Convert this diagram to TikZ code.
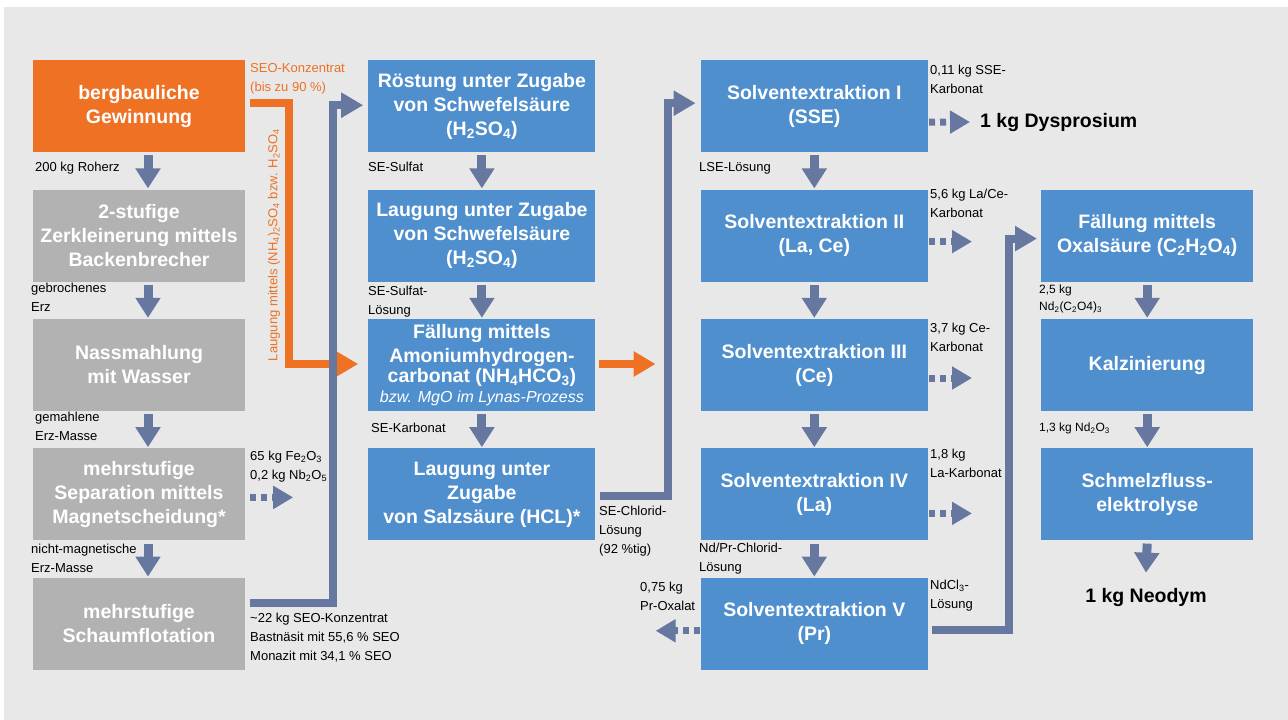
\documentclass[tikz,border=0pt]{standalone}
\usepackage{fontspec}
\setmainfont{Liberation Sans}
\usetikzlibrary{arrows.meta, positioning}

\definecolor{oreorange}{HTML}{EE7124}
\definecolor{oregray}{HTML}{B2B2B2}
\definecolor{procblue}{HTML}{4F8FCD}
\definecolor{flowblue}{HTML}{6678A0}
\definecolor{bggray}{HTML}{E8E8E8}

\newcommand{\subs}[1]{\textsubscript{#1}}

\begin{document}
\begin{tikzpicture}[
    x=1pt, y=-1pt,
    node distance=37pt and 123pt,
    block/.style={rectangle, fill=procblue, minimum width=212pt, minimum height=92pt, inner sep=0pt, align=center, text=white, font=\fontsize{19.5}{24}\selectfont\bfseries},
    wblock/.style={block, minimum width=227pt},
    ore/.style={block, fill=oreorange},
    grey/.style={block, fill=oregray},
    down/.style={draw=flowblue, line width=9pt, -{Triangle[width=24pt,length=20pt]}},
    side/.style={draw=flowblue, line width=7pt, dash pattern=on 6pt off 5pt, -{Triangle[width=22pt,length=20pt]}},
    link/.style={draw=flowblue, line width=8pt, -{Triangle[width=24pt,length=22pt]}},
    olink/.style={link, draw=oreorange},
    lbl/.style={anchor=north west, inner sep=0pt, align=left, font=\fontsize{13}{19}\selectfont},
    slbl/.style={lbl, font=\fontsize{12}{17}\selectfont},
    olbl/.style={lbl, text=oreorange},
    result/.style={inner sep=0pt, font=\fontsize{19.5}{24}\selectfont\bfseries}
]
    % background
    \fill[white] (0,0) rectangle (1288,720);
    \fill[bggray] (4,7) rectangle (1288,720);

    % mining column
    \node[ore, anchor=north] (berg) at (139,60) {bergbauliche\\Gewinnung};
    \node[grey, below=of berg] (zerk) {2-stufige\\Zerkleinerung mittels\\Backenbrecher};
    \node[grey, below=of zerk] (nass) {Nassmahlung\\mit Wasser};
    \node[grey, below=of nass] (sep) {mehrstufige\\Separation mittels\\Magnetscheidung*};
    \node[grey, below=of sep] (flot) {mehrstufige\\Schaumflotation};

    % chemical column
    \node[wblock, right=of berg] (roest) {R\"ostung unter Zugabe\\von Schwefels\"aure\\(H\subs{2}SO\subs{4})};
    \node[wblock, below=of roest] (laug) {Laugung unter Zugabe\\von Schwefels\"aure\\(H\subs{2}SO\subs{4})};
    \node[wblock, below=of laug] (fael) {F\"allung mittels\\Amoniumhydrogen-\\[-4pt]carbonat (NH\subs{4}HCO\subs{3})\\[-4pt]{\fontsize{16}{18}\selectfont\mdseries\itshape bzw. MgO im Lynas-Prozess}};
    \node[wblock, below=of fael] (hcl) {Laugung unter\\Zugabe\\von Salzs\"aure (HCL)*};

    % solvent extraction column
    \node[wblock, right=105pt of roest] (sse1) {Solventextraktion I\\(SSE)};
    \node[wblock, below=of sse1] (sse2) {Solventextraktion II\\(La, Ce)};
    \node[wblock, below=of sse2] (sse3) {Solventextraktion III\\(Ce)};
    \node[wblock, below=of sse3] (sse4) {Solventextraktion IV\\(La)};
    \node[wblock, below=of sse4] (sse5) {Solventextraktion V\\(Pr)};

    % neodymium column
    \node[block, right=113pt of sse2] (oxal) {F\"allung mittels\\Oxals\"aure (C\subs{2}H\subs{2}O\subs{4})};
    \node[block, below=of oxal] (kalz) {Kalzinierung};
    \node[block, below=of kalz] (schm) {Schmelzfluss-\\elektrolyse};

    \node[result, anchor=west] (dy) at (980,122) {1 kg Dysprosium};
    \node[result] (neo) at (1146,597) {1 kg Neodym};

    % straight flow
    \foreach \a/\b in {berg/zerk, zerk/nass, nass/sep, sep/flot}
        \draw[down] ([xshift=9pt,yshift=-3pt]\a.south) -- ([xshift=9pt,yshift=1pt]\b.north);
    \foreach \a/\b in {roest/laug, laug/fael, fael/hcl, sse1/sse2, sse2/sse3, sse3/sse4, sse4/sse5, oxal/kalz, kalz/schm}
        \draw[down] ([yshift=-3pt]\a.south) -- ([yshift=1pt]\b.north);
    \draw[down] ([yshift=-3pt]schm.south) -- ([yshift=15pt]neo.north);

    % by-products
    \draw[side] ([xshift=5pt,yshift=-3pt]sep.east) -- ++(43,0);
    \draw[side] ([xshift=1pt,yshift=-16pt]sse1.east) -- ([xshift=-10pt]dy.west);
    \draw[side] ([xshift=1pt,yshift=-6pt]sse2.east) -- ++(43,0);
    \draw[side] ([xshift=1pt,yshift=-13pt]sse3.east) -- ++(43,0);
    \draw[side] ([xshift=1pt,yshift=-19pt]sse4.east) -- ++(43,0);
    \draw[side] ([xshift=-1pt,yshift=-7pt]sse5.west) -- ++(-44,0);

    % connectors
    \draw[olink] ([xshift=5pt,yshift=3pt]berg.east) -- ++(39,0) |- ([xshift=-10pt,yshift=1pt]fael.west);
    \draw[olink] ([xshift=3pt,yshift=1pt]fael.east) -- ([xshift=-45pt,yshift=1pt]sse3.west);
    \draw[link] ([xshift=5pt,yshift=21pt]flot.east) -- ++(83,0) |- ([xshift=-5pt,yshift=1pt]roest.west);
    \draw[link] ([xshift=4pt,yshift=-2pt]hcl.east) -- ++(68,0) |- ([xshift=-5pt,yshift=3pt]sse1.west);
    \draw[link] ([xshift=4pt,yshift=-6pt]sse5.east) -- ++(77,0) |- ([xshift=-4pt,yshift=-3pt]oxal.west);

    % labels
    \node[olbl] (konz) at (250,63) {SEO-Konzentrat\\(bis zu 90 \%)};
    \node[text=oreorange, inner sep=0pt, rotate=90, font=\fontsize{13}{15}\selectfont] (laugtxt) at (274,245) {Laugung mittels (NH\subs{4})\subs{2}SO\subs{4} bzw. H\subs{2}SO\subs{4}};
    \node[lbl] (roherz) at (35,162) {200 kg Roherz};
    \node[lbl] (gebr) at (31,283) {gebrochenes\\Erz};
    \node[lbl] (gemahl) at (35,412) {gemahlene\\Erz-Masse};
    \node[lbl] (eisen) at (250,451) {65 kg Fe\subs{2}O\subs{3}\\0,2 kg Nb\subs{2}O\subs{5}};
    \node[lbl] (nichtmag) at (31,544) {nicht-magnetische\\Erz-Masse};
    \node[lbl] (seokonz) at (250,613) {\textasciitilde22 kg SEO-Konzentrat\\Bastn\"asit mit 55,6 \% SEO\\Monazit mit 34,1 \% SEO};
    \node[lbl] (sulfat) at (368,162) {SE-Sulfat};
    \node[lbl] (sulfatl) at (368,286) {SE-Sulfat-\\L\"osung};
    \node[lbl] (karb) at (371,423) {SE-Karbonat};
    \node[lbl] (chlorid) at (599,506) {SE-Chlorid-\\L\"osung\\(92 \%tig)};
    \node[lbl] (proxal) at (640,582) {0,75 kg\\Pr-Oxalat};
    \node[lbl] (ssekarb) at (930,65) {0,11 kg SSE-\\Karbonat};
    \node[lbl] (lse) at (699,162) {LSE-L\"osung};
    \node[lbl] (lacekarb) at (930,189) {5,6 kg La/Ce-\\Karbonat};
    \node[lbl] (cekarb) at (930,323) {3,7 kg Ce-\\Karbonat};
    \node[lbl] (lakarb) at (930,449) {1,8 kg\\La-Karbonat};
    \node[lbl] (ndpr) at (699,543) {Nd/Pr-Chlorid-\\L\"osung};
    \node[lbl] (ndcl) at (930,580) {NdCl\subs{3}-\\L\"osung};
    \node[slbl] (ndox) at (1039,285) {2,5 kg\\Nd\subs{2}(C\subs{2}O4)\subs{3}};
    \node[slbl] (ndoxid) at (1039,423) {1,3 kg Nd\subs{2}O\subs{3}};
\end{tikzpicture}
\end{document}
